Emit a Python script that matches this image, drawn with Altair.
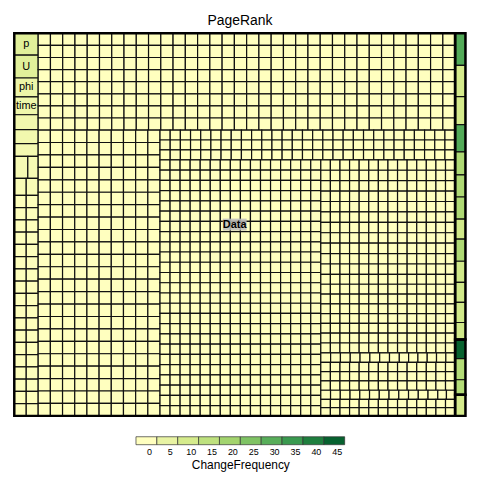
import math
import altair as alt
import pandas as pd

# ---------------- data ----------------
# Data group, left column cells (top to bottom)
left_names = ["p", "U", "phi", "time", "", "", "", "", "", "", ""]
left_sizes = [528, 552, 456, 432, 360, 336, 312, 300, 230, 204, 204]
left_freq = [7, 7, 4, 3.5, 3, 3, 2.5, 2, 2, 1.5, 1.5]
# remaining small cells of the left column: (size, count, ChangeFrequency)
left_small = [(148, 36, 0.5)]

# Data group, main cells as runs of (size, count), one list per block
data_blocks = [
    [(150, 272)],
    [(153, 230)],
    [(102, 87)],
    [(104, 400)],
    [(101, 154)],
    [(95, 120), (90, 60), (80, 30)],
]
data_freq = 0

# right hand groups (top to bottom)
right_sizes = [
    [336, 326, 294, 284, 242, 231, 231, 210, 231, 221, 210, 210, 179],
    [200, 220, 158],
    [220],
]
right_freq = [
    [31, 10, 10, 31, 18, 18, 18, 11, 18, 11, 11, 11, 11],
    [45, 17, 17],
    [10],
]

legend_values = [0, 5, 10, 15, 20, 25, 30, 35, 40, 45]
legend_colors = ["#FFFFBF", "#E8F3A3", "#D5EB8C", "#BEE17E", "#A3D46E",
                 "#7FC364", "#58AE5A", "#3A9A4F", "#1F7F3E", "#07622F"]

# ---------------- treemap layout (computed from sizes) ----------------
W, H = 454.0, 385.0
cells = []
groups = []


def row_layout(vals, freqs, names, x, y, w, h):
    """Rows stacked from the top; a row grows while the mean aspect improves."""
    total = sum(vals)
    areas = [v * w * h / total for v in vals]

    def mean_aspect(row):
        t = sum(row) / w
        return sum(max(t / (a / t), (a / t) / t) for a in row) / len(row)

    i = 0
    while i < len(areas):
        row = [areas[i]]
        j = i + 1
        while j < len(areas) and mean_aspect(row + [areas[j]]) < mean_aspect(row):
            row.append(areas[j])
            j += 1
        t = sum(row) / w
        xx = x
        for k, a in enumerate(row):
            l = a / t
            cells.append(dict(x=xx, x2=xx + l, y=y, y2=y + t, freq=freqs[i + k], label=names[i + k]))
            xx += l
        y += t
        i = j


def grid(vals, freq, x, y, w, h, horizontal):
    total = sum(vals)
    side = math.sqrt(w * h / len(vals))
    n_lines = max(1, round((h if horizontal else w) / side))
    n = len(vals)
    pos = y if horizontal else x
    for k in range(n_lines):
        ch = vals[round(k * n / n_lines):round((k + 1) * n / n_lines)]
        cs = sum(ch)
        thick = (h if horizontal else w) * cs / total
        along = x if horizontal else y
        for v in ch:
            L = (w if horizontal else h) * v / cs
            if horizontal:
                cells.append(dict(x=along, x2=along + L, y=pos, y2=pos + thick, freq=freq, label=""))
            else:
                cells.append(dict(x=pos, x2=pos + thick, y=along, y2=along + L, freq=freq, label=""))
            along += L
        pos += thick


def expand(runs):
    out = []
    for s, c in runs:
        out += [s] * c
    return out


lv = list(left_sizes)
lf = list(left_freq)
ln = list(left_names)
for s, c, f in left_small:
    lv += [s] * c
    lf += [f] * c
    ln += [""] * c
blocks = [expand(b) for b in data_blocks]
left_total = sum(lv)
data_total = left_total + sum(sum(b) for b in blocks)
right_total = sum(sum(g) for g in right_sizes)
ppu = W * H / (data_total + right_total)

data_w = data_total * ppu / H
groups.append(dict(x=0, x2=data_w, y=0, y2=H, name="Data"))

# left column of Data
lw = left_total * ppu / H
row_layout(lv, lf, ln, 0, 0, lw, H)

# main part of Data: alternating strips (top / left)
rx, ry, rw, rh = lw, 0.0, data_w - lw, H
for k, b in enumerate(blocks):
    area = sum(b) * ppu
    if k == len(blocks) - 1:
        grid(b, data_freq, rx, ry, rw, rh, True)
    elif k % 2 == 0:
        t = area / rw
        grid(b, data_freq, rx, ry, rw, t, True)
        ry += t
        rh -= t
    else:
        t = area / rh
        grid(b, data_freq, rx, ry, t, rh, False)
        rx += t
        rw -= t

# right hand groups
gy = 0.0
for sizes, freqs in zip(right_sizes, right_freq):
    gh = H * sum(sizes) / right_total
    groups.append(dict(x=data_w, x2=W, y=gy, y2=gy + gh, name=""))
    yy = gy
    for s, f in zip(sizes, freqs):
        ch = gh * s / sum(sizes)
        cells.append(dict(x=data_w, x2=W, y=yy, y2=yy + ch, freq=f, label=""))
        yy += ch
    gy += gh

df = pd.DataFrame(cells)
df["cx"] = (df.x + df.x2) / 2
df["cy"] = (df.y + df.y2) / 2
gdf = pd.DataFrame(groups)
gdf["cx"] = (gdf.x + gdf.x2) / 2
gdf["cy"] = (gdf.y + gdf.y2) / 2

FONT = "Liberation Sans"
xs = alt.Scale(domain=[0, W], nice=False, zero=False)
ys = alt.Scale(domain=[0, H], nice=False, zero=False, reverse=True)
cscale = alt.Scale(type="linear", domain=legend_values, range=legend_colors, clamp=True)

rects = alt.Chart(df).mark_rect(stroke="#111111", strokeWidth=1.2).encode(
    x=alt.X("x:Q", scale=xs, axis=None), x2="x2:Q",
    y=alt.Y("y:Q", scale=ys, axis=None), y2="y2:Q",
    color=alt.Color("freq:Q", scale=cscale, legend=None),
)
labels = alt.Chart(df).transform_filter("datum.label != ''").mark_text(
    font=FONT, fontSize=11, color="black", baseline="middle", align="center"
).encode(x=alt.X("cx:Q", scale=xs, axis=None), y=alt.Y("cy:Q", scale=ys, axis=None), text="label:N")

gborder = alt.Chart(gdf).mark_rect(fillOpacity=0, stroke="black", strokeWidth=2.5).encode(
    x=alt.X("x:Q", scale=xs, axis=None), x2="x2:Q",
    y=alt.Y("y:Q", scale=ys, axis=None), y2="y2:Q",
)
gnamed = gdf[gdf.name != ""]
gbox = alt.Chart(gnamed).mark_rect(
    color="#BDBDBD", opacity=0.85, xOffset=-12, x2Offset=12, yOffset=-6, y2Offset=6
).encode(
    x=alt.X("cx:Q", scale=xs, axis=None), x2="cx:Q",
    y=alt.Y("cy:Q", scale=ys, axis=None), y2="cy:Q",
)
gtext = alt.Chart(gnamed).mark_text(
    font=FONT, fontSize=11, fontWeight="bold", color="black", baseline="middle", align="center"
).encode(x=alt.X("cx:Q", scale=xs, axis=None), y=alt.Y("cy:Q", scale=ys, axis=None), text="name:N")

top = alt.layer(rects, labels, gborder, gbox, gtext).properties(
    width=W, height=H,
    title=alt.TitleParams("PageRank", font=FONT, fontSize=14, fontWeight="normal", anchor="middle", offset=4),
)

ldf = pd.DataFrame({"lab": [str(v) for v in legend_values], "freq": legend_values})
legend = alt.Chart(ldf).mark_rect(stroke="#333333", strokeWidth=0.7).encode(
    x=alt.X("lab:N", sort=[str(v) for v in legend_values],
            scale=alt.Scale(paddingInner=0, paddingOuter=0),
            axis=alt.Axis(title="ChangeFrequency", orient="bottom", domain=False, ticks=False,
                          labelAngle=0, labelFont=FONT, labelFontSize=9, labelPadding=3, labelOffset=3,
                          labelColor="black", titleFont=FONT, titleFontSize=12,
                          titleFontWeight="normal", titleColor="black", titlePadding=3)),
    color=alt.Color("freq:Q", scale=cscale, legend=None),
).properties(width=210, height=8)

chart = alt.vconcat(top, legend, center=True, spacing=18).properties(
    padding={"left": 13, "top": 12, "right": 13, "bottom": 0}
).configure_view(stroke=None)

chart.save("out.html", embed_options={"renderer": "svg", "actions": False})
